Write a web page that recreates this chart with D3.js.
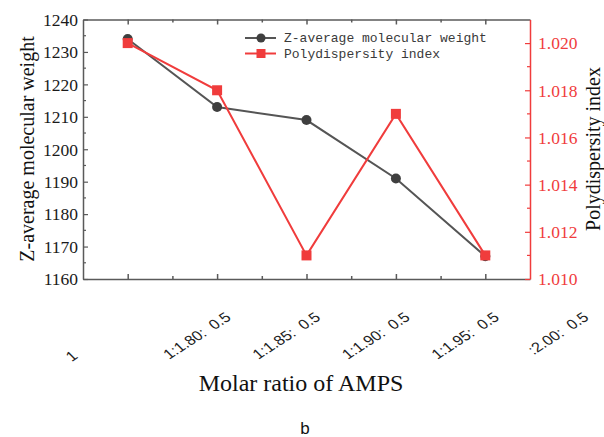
<!DOCTYPE html>
<html>
<head>
<meta charset="utf-8">
<script src="https://cdn.jsdelivr.net/npm/d3@7"></script>
<style>
  html, body { margin: 0; padding: 0; background: #fff; }
  svg { display: block; }
  .xlab { white-space: pre; }
</style>
</head>
<body>
<svg id="chart" width="604" height="437"></svg>
<script>
// Category positions along the x axis and the labels printed under them
const categories = [0, 1, 2, 3, 4];
const xTickLabels = ["1", "1:1.80:  0.5", "1:1.85:  0.5", "1:1.90:  0.5", "1:1.95:  0.5", ":2.00:  0.5"];

// Series values
const zAverage = [1234, 1213, 1209, 1191, 1167];
const polydispersity = [1.020, 1.018, 1.011, 1.017, 1.011];

// Axis tick values
const leftTicks = [1160, 1170, 1180, 1190, 1200, 1210, 1220, 1230, 1240];
const rightTicks = [1.010, 1.012, 1.014, 1.016, 1.018, 1.020];

const seriesNames = ["Z-average molecular weight", "Polydispersity index"];

const GREY = "#555555", GREY_MARK = "#3f3f3f", RED = "#f03c3c", AXIS = "#5a5a5a";
const serif = "'Liberation Serif', 'Times New Roman', serif";

const svg = d3.select("#chart");
const L = 83, R = 530, T = 19.5, B = 279;

const x = d3.scaleLinear().domain([-0.5, 4.5]).range([L, R]);
const yL = d3.scaleLinear().domain([1160, 1240]).range([B, T]);
const yR = d3.scaleLinear().domain([1.010, 1.021]).range([B, T]);

// Minor tick helpers
const halfSteps = d3.range(-0.5, 4.51, 0.5).filter(v => v > -0.5 && v < 4.5);
const leftMinor = d3.range(1165, 1240, 10);
const rightMinor = d3.range(1.011, 1.0205, 0.002);

// ---- frame and ticks ----
const frame = svg.append("g");

// bottom axis (ticks pointing up into the plot)
const axBottom = frame.append("g").attr("transform", `translate(0,${B})`);
axBottom.call(d3.axisBottom(x).tickValues(halfSteps).tickSize(0).tickFormat(""));
axBottom.selectAll(".tick").append("line")
  .attr("y1", 0).attr("y2", d => Number.isInteger(d) ? -5 : -3)
  .attr("stroke", AXIS).attr("stroke-width", 1.5);
axBottom.select(".domain").attr("stroke", AXIS).attr("stroke-width", 1.5);

// top axis (ticks pointing down)
const axTop = frame.append("g").attr("transform", `translate(0,${T})`);
axTop.call(d3.axisTop(x).tickValues(halfSteps).tickSize(0).tickFormat(""));
axTop.selectAll(".tick").append("line")
  .attr("y1", 0).attr("y2", d => Number.isInteger(d) ? 5 : 3)
  .attr("stroke", AXIS).attr("stroke-width", 1.5);
axTop.select(".domain").attr("stroke", AXIS).attr("stroke-width", 1.5);

// left axis
const axLeft = frame.append("g").attr("transform", `translate(${L},0)`);
axLeft.call(d3.axisLeft(yL).tickValues(leftTicks).tickSize(0).tickPadding(5)
  .tickFormat(d3.format("d")));
axLeft.select(".domain").attr("stroke", AXIS).attr("stroke-width", 1.5);
axLeft.selectAll(".tick text").attr("font-family", serif).attr("font-size", 17.5)
  .attr("fill", "#1a1a1a").attr("dy", "0.33em");
axLeft.selectAll(".tick").append("line").attr("x1", 0).attr("x2", 5)
  .attr("stroke", AXIS).attr("stroke-width", 1.2);
axLeft.selectAll(".minor").data(leftMinor).enter().append("line")
  .attr("x1", 0).attr("x2", 3).attr("y1", d => yL(d)).attr("y2", d => yL(d))
  .attr("stroke", AXIS).attr("stroke-width", 1.2);

// right axis (red)
const axRight = frame.append("g").attr("transform", `translate(${R},0)`);
axRight.call(d3.axisRight(yR).tickValues(rightTicks).tickSize(0).tickPadding(8)
  .tickFormat(d3.format(".3f")));
axRight.select(".domain").attr("stroke", RED).attr("stroke-width", 1.5);
axRight.selectAll(".tick text").attr("font-family", serif).attr("font-size", 17.5)
  .attr("fill", RED).attr("dy", "0.33em");
axRight.selectAll(".tick").append("line").attr("x1", 0).attr("x2", -5)
  .attr("stroke", RED).attr("stroke-width", 1.2);
axRight.selectAll(".minor").data(rightMinor).enter().append("line")
  .attr("x1", 0).attr("x2", -3).attr("y1", d => yR(d)).attr("y2", d => yR(d))
  .attr("stroke", RED).attr("stroke-width", 1.2);

// ---- x tick labels, slanted ----
const labelG = svg.append("g").attr("font-family", "'Liberation Sans', Arial, sans-serif")
  .attr("font-size", 15).attr("fill", "#222");
xTickLabels.forEach((t, i) => {
  const ax = i === 0 ? x(i) - 56 : x(i) + 15;
  const ay = i === 0 ? 362 : 319;
  labelG.append("text").attr("class", "xlab")
    .attr("transform", `translate(${ax},${ay}) rotate(-33) skewX(12)`)
    .attr("text-anchor", i === 0 ? "start" : "end")
    .text(t);
});

// ---- series ----
const plot = svg.append("g");
const lineL = d3.line().x((d, i) => x(categories[i])).y(d => yL(d));
const lineR = d3.line().x((d, i) => x(categories[i])).y(d => yR(d));

plot.append("path").datum(zAverage).attr("d", lineL)
  .attr("fill", "none").attr("stroke", GREY).attr("stroke-width", 2);
plot.selectAll(".zpt").data(zAverage).enter().append("circle")
  .attr("cx", (d, i) => x(categories[i])).attr("cy", d => yL(d)).attr("r", 5)
  .attr("fill", GREY_MARK);

plot.append("path").datum(polydispersity).attr("d", lineR)
  .attr("fill", "none").attr("stroke", RED).attr("stroke-width", 2);
plot.selectAll(".ppt").data(polydispersity).enter().append("rect")
  .attr("x", (d, i) => x(categories[i]) - 5).attr("y", d => yR(d) - 5)
  .attr("width", 10).attr("height", 10).attr("fill", RED);

// ---- legend ----
const legend = svg.append("g").attr("transform", "translate(245,38)");
const mono = "'Liberation Mono', 'DejaVu Sans Mono', monospace";
const lg1 = legend.append("g");
lg1.append("line").attr("x1", 0).attr("x2", 31).attr("stroke", GREY).attr("stroke-width", 2);
lg1.append("circle").attr("cx", 16).attr("r", 4.5).attr("fill", GREY_MARK);
lg1.append("text").attr("x", 39).attr("y", 4).attr("font-family", mono).attr("font-size", 13)
  .attr("fill", "#3a3a3a").text(seriesNames[0]);
const lg2 = legend.append("g").attr("transform", "translate(0,15.5)");
lg2.append("line").attr("x1", 0).attr("x2", 31).attr("stroke", RED).attr("stroke-width", 2);
lg2.append("rect").attr("x", 11.5).attr("y", -4.5).attr("width", 9).attr("height", 9).attr("fill", RED);
lg2.append("text").attr("x", 39).attr("y", 4).attr("font-family", mono).attr("font-size", 13)
  .attr("fill", "#3a3a3a").text(seriesNames[1]);

// ---- titles ----
svg.append("text").attr("transform", `translate(34,149) rotate(-90)`)
  .attr("text-anchor", "middle").attr("font-family", serif).attr("font-size", 20)
  .attr("fill", "#111").text("Z-average molecular weight");
svg.append("text").attr("transform", `translate(600,149) rotate(-90)`)
  .attr("text-anchor", "middle").attr("font-family", serif).attr("font-size", 20)
  .attr("fill", "#111").text("Polydispersity index");
svg.append("text").attr("x", 301).attr("y", 391)
  .attr("text-anchor", "middle").attr("font-family", serif).attr("font-size", 24)
  .attr("fill", "#111").text("Molar ratio of AMPS");
svg.append("text").attr("x", 305).attr("y", 434)
  .attr("text-anchor", "middle").attr("font-family", "'Liberation Sans', Arial, sans-serif")
  .attr("font-size", 17).attr("fill", "#111").text("b");
</script>
</body>
</html>
